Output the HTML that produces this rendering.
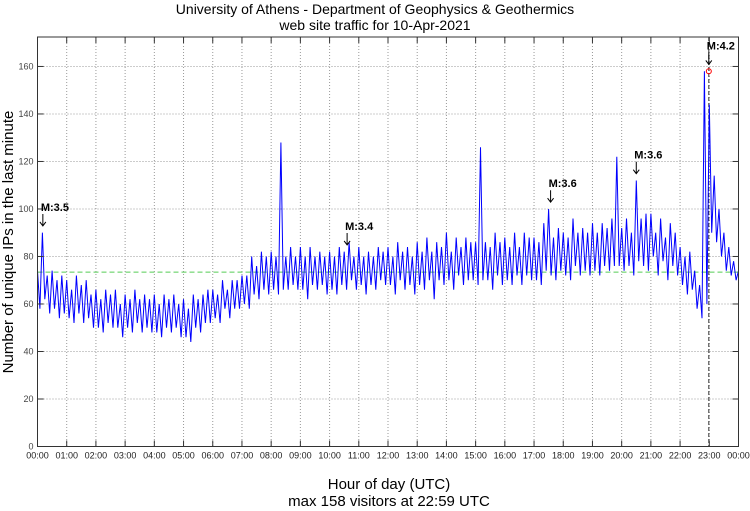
<!DOCTYPE html>
<html><head><meta charset="utf-8"><style>
body{margin:0;background:#fff;}
svg{display:block;font-family:"Liberation Sans",sans-serif;}
</style></head><body>
<svg id="chart" width="750" height="511" viewBox="0 0 750 511" xmlns="http://www.w3.org/2000/svg">
<rect width="750" height="511" fill="#fff"/>
<text x="375" y="14" text-anchor="middle" font-size="14">University of Athens - Department of Geophysics &amp; Geothermics</text>
<text x="375" y="30" text-anchor="middle" font-size="14">web site traffic for 10-Apr-2021</text>
<g id="grid"></g>
<g id="series"></g>
<g id="axes"></g>
<g id="notes"></g>
<text x="389" y="489" text-anchor="middle" font-size="15">Hour of day (UTC)</text>
<text x="389" y="506" text-anchor="middle" font-size="15">max 158 visitors at 22:59 UTC</text>
<text transform="translate(13,242) rotate(-90)" text-anchor="middle" font-size="15">Number of unique IPs in the last minute</text>
</svg>
<script>
const visitorsHigh = [
74,90,72,74,70,72, 70,66,72,68,70,64, 66,62,66,64,66,60, 64,62,66,62,64,62,
64,60,64,62,64,60, 62,58,64,62,64,66, 66,64,70,66,70,70, 72,72,80,76,82,80,
82,80,128,80,84,80, 84,80,84,80,82,80, 82,80,84,82,86,80, 84,80,82,80,84,82,
84,80,86,82,84,80, 86,82,88,82,86,84, 90,82,88,84,88,86, 86,126,86,84,90,86,
88,84,90,84,90,88, 88,86,94,100,88,92, 90,88,96,90,92,90, 94,90,94,92,96,122,
92,96,90,112,96,98, 98,90,96,88,94,90, 84,80,82,74,68,158, 144,114,100,90,84,78, 74];
const visitorsLow = [
58,62,56,58,54,56, 54,52,56,52,54,50, 50,48,52,50,50,46, 50,48,52,48,50,48,
48,46,50,48,50,46, 46,44,50,48,52,52, 54,52,58,54,58,58, 60,58,64,62,66,64,
66,64,66,66,68,66, 66,62,68,66,68,64, 66,64,68,66,70,66, 68,64,68,66,70,68,
68,64,70,66,68,64, 68,66,70,62,70,68, 70,66,72,68,70,70, 68,70,70,66,72,68,
70,68,72,68,72,70, 70,68,74,72,70,74, 72,70,76,72,74,72, 74,72,76,74,76,76,
74,76,72,78,76,74, 80,72,78,70,76,72, 68,64,66,58,54,60, 90,86,80,74,72,70, 70];
const stepMinutes = 10;
const yTicks = [0,20,40,60,80,100,120,140,160];
const xTickLabels = ["00:00","01:00","02:00","03:00","04:00","05:00","06:00","07:00","08:00","09:00","10:00","11:00","12:00","13:00","14:00","15:00","16:00","17:00","18:00","19:00","20:00","21:00","22:00","23:00","00:00"];
const averageVisitors = 73.4;
const peakMinute = 1379;
const peakValue = 158;
const quakeLabels = ["M:3.5","M:3.4","M:3.6","M:3.6","M:4.2"];
const quakeMinutes = [11,636,1054,1230,1379];
const quakeValues = [92,84,102,114,160];

const L=37.5,R=738.5,T=37,B=446.5,YMAX=172.4;
const X=m=>L+(R-L)*m/1440;
const Y=v=>B-(B-T)*v/YMAX;
const NS="http://www.w3.org/2000/svg";
function mk(tag,parent,attrs){const e=document.createElementNS(NS,tag);for(const k in attrs)e.setAttribute(k,attrs[k]);document.getElementById(parent).appendChild(e);return e;}

xTickLabels.forEach((t,i)=>{
  const x=X(i*60);
  if(i>0&&i<24){const g=mk('line','grid',{x1:x,x2:x,y1:T,y2:B,stroke:'#999','stroke-dasharray':'1,2'});
  
  }
  const tk=mk('line','axes',{x1:x,x2:x,y1:B,y2:B-6,stroke:'#333'});
  
  
  const tk2=mk('line','axes',{x1:x,x2:x,y1:T,y2:T+6,stroke:'#333'});
  
  
  const lb=mk('text','axes',{x:x,y:B+12,'text-anchor':'middle','font-size':9,fill:'#222'});
  lb.textContent=t;
  
  
});
yTicks.forEach(v=>{
  const y=Y(v);
  if(v>0){const g=mk('line','grid',{x1:L,x2:R,y1:y,y2:y,stroke:'#999','stroke-dasharray':'1,2'});
  
  }
  const tk=mk('line','axes',{x1:L,x2:L+6,y1:y,y2:y,stroke:'#333'});
  
  
  const tk2=mk('line','axes',{x1:R,x2:R-6,y1:y,y2:y,stroke:'#333'});
  
  
  const lb=mk('text','axes',{x:L-4,y:y+3,'text-anchor':'end','font-size':9,fill:'#444'});
  lb.textContent=v;
  
  
});
const fr=mk('rect','axes',{x:L,y:T,width:R-L,height:B-T,fill:'none',stroke:'#333'});



const avg=mk('line','series',{x1:L,x2:R,y1:Y(averageVisitors),y2:Y(averageVisitors),stroke:'#5c5','stroke-dasharray':'5,3'});


const vl=mk('line','series',{x1:X(peakMinute),x2:X(peakMinute),y1:T,y2:B,stroke:'#333','stroke-dasharray':'4,2'});


const pp=[];
visitorsHigh.forEach((v,i)=>{
  pp.push(X(i*stepMinutes).toFixed(1)+','+Y(v).toFixed(1));
  if(i<visitorsLow.length-1) pp.push(X(i*stepMinutes+stepMinutes/2).toFixed(1)+','+Y(visitorsLow[i]).toFixed(1));
});
const ln=mk('polyline','series',{points:pp.join(' '),fill:'none',stroke:'#0000ff','stroke-width':1});


const pk=mk('circle','series',{cx:X(peakMinute),cy:Y(peakValue),r:2.5,fill:'none',stroke:'#f00'});



quakeLabels.forEach((t,i)=>{
  const x=X(quakeMinutes[i]),y=Y(quakeValues[i]);
  const a=mk('path','notes',{d:`M${x},${y-14} L${x},${y-2} M${x-3},${y-6} L${x},${y-2} L${x+3},${y-6}`,stroke:'#000',fill:'none'});
  
  
  const lb=mk('text','notes',{x:x-2,y:y-17,'font-size':11,'font-weight':'bold'});
  lb.textContent=t;
  
  
});
</script>
</body></html>
